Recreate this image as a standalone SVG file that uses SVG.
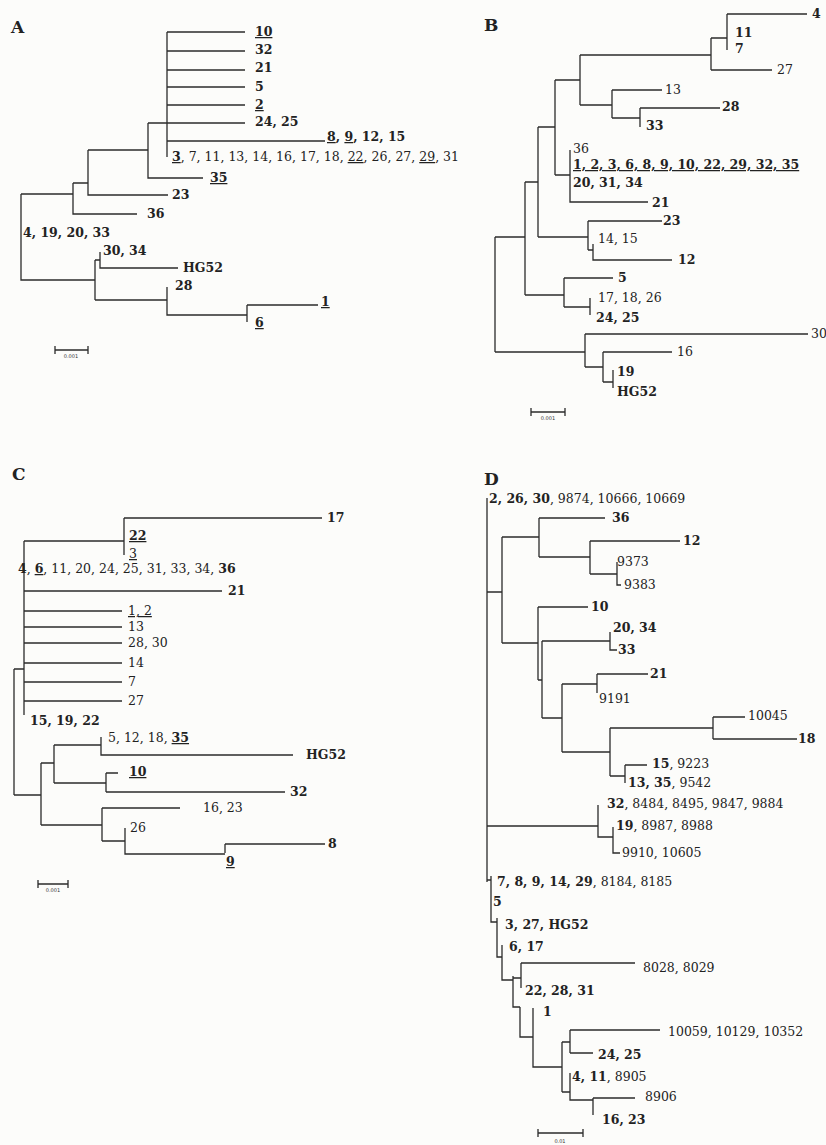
<svg xmlns="http://www.w3.org/2000/svg" width="826" height="1145" viewBox="0 0 826 1145">
<style>
.bg{fill:#fcfcfa}
.ln{fill:none;stroke:#2b2b2b;stroke-width:1.3}
.t{font-family:"DejaVu Serif","Liberation Serif",serif;font-size:12.5px;fill:#222}
.b{font-weight:bold}
.u{text-decoration:underline}
.h{font-family:"DejaVu Serif","Liberation Serif",serif;font-size:17px;font-weight:bold;fill:#222}
.s{font-family:"DejaVu Sans",sans-serif;font-size:5px;fill:#333;text-anchor:middle}
</style>
<rect class="bg" x="0" y="0" width="826" height="1145"/>

<!-- Panel A -->
<g id="panelA">
<text class="h" x="11" y="33">A</text>
<g id="A-connectors">
<path class="ln" d="M167,32 V157 M167,32 H245 M167,51 H245 M167,70 H245 M167,87 H245 M167,105 H245 M167,123 H245 M167,141 H325
M148,123 H167 M148,123 V178 H203
M88,150 H148 M88,150 V195 H168
M73,183 H88 M73,183 V214 H137
M21,194 H73 M21,194 V280 H95
M95,260 V300 M95,260 H100 M100,252 V268 H178
M95,300 H167 M167,287 V315 H247 M247,305 V322 M247,305 H318"/>
<path class="ln" d="M55,350 H88 M55,346 V354 M88,346 V354"/>
</g>
<g id="A-labels">
<text class="t b u" x="255" y="36">10</text>
<text class="t b" x="255" y="54">32</text>
<text class="t b" x="255" y="72">21</text>
<text class="t b" x="255" y="91">5</text>
<text class="t b u" x="255" y="109">2</text>
<text class="t b" x="255" y="126">24, 25</text>
<text class="t b" x="327" y="141"><tspan class="u">8</tspan>, <tspan class="u">9</tspan>, 12, 15</text>
<text class="t" x="172" y="161"><tspan class="u b">3</tspan>, 7, 11, 13, 14, 16, 17, 18, <tspan class="u">22</tspan>, 26, 27, <tspan class="u">29</tspan>, 31</text>
<text class="t b u" x="210" y="182">35</text>
<text class="t b" x="172" y="199">23</text>
<text class="t b" x="147" y="218">36</text>
<text class="t b" x="23" y="237">4, 19, 20, 33</text>
<text class="t b" x="103" y="255">30, 34</text>
<text class="t b" x="183" y="272">HG52</text>
<text class="t b" x="175" y="290">28</text>
<text class="t b u" x="321" y="306">1</text>
<text class="t b u" x="255" y="327">6</text>
<text class="s" x="71" y="358">0.001</text>
</g>
</g>

<!-- Panel B -->
<g id="panelB">
<text class="h" x="484" y="31">B</text>
<g id="B-connectors">
<path class="ln" d="M580,55 V105 M580,55 H711 M711,38 V70 M711,38 H727 M711,70 H772 M727,14 V50 M727,14 H807
M580,105 H612 M612,90 V118 M612,90 H662 M612,118 H640 M640,108 V127 M640,108 H720
M555,80 V175 M555,80 H580 M555,175 H570 M570,150 V202 H648
M538,127 V237 M538,127 H555 M538,237 H588 M588,221 V250 M588,221 H662 M588,250 H593 M593,244 V260 H672
M525,182 V295 M525,182 H538 M525,295 H564 M564,278 V307 M564,278 H613 M564,307 H590 M590,298 V315
M495,237 V352 M495,237 H525 M495,352 H585 M585,334 V367 M585,334 H808 M585,367 H603 M603,352 V382 M603,352 H672 M603,382 H613 M613,370 V388"/>
<path class="ln" d="M531,412 H565 M531,408 V416 M565,408 V416"/>
</g>
<g id="B-labels">
<text class="t b" x="812" y="18">4</text>
<text class="t b" x="735" y="37">11</text>
<text class="t b" x="735" y="53">7</text>
<text class="t" x="777" y="74">27</text>
<text class="t" x="665" y="94">13</text>
<text class="t b" x="722" y="111">28</text>
<text class="t b" x="646" y="130">33</text>
<text class="t" x="573" y="153">36</text>
<text class="t b u" x="573" y="169">1, 2, 3, 6, 8, 9, 10, 22, 29, 32, 35</text>
<text class="t b" x="573" y="187">20, 31, 34</text>
<text class="t b" x="652" y="207">21</text>
<text class="t b" x="663" y="225">23</text>
<text class="t" x="598" y="243">14, 15</text>
<text class="t b" x="678" y="264">12</text>
<text class="t b" x="618" y="282">5</text>
<text class="t" x="598" y="302">17, 18, 26</text>
<text class="t b" x="596" y="322">24, 25</text>
<text class="t" x="811" y="338">30</text>
<text class="t" x="677" y="356">16</text>
<text class="t b" x="617" y="376">19</text>
<text class="t b" x="617" y="396">HG52</text>
<text class="s" x="548" y="420">0.001</text>
</g>
</g>

<!-- Panel C -->
<g id="panelC">
<text class="h" x="12" y="480">C</text>
<g id="C-connectors">
<path class="ln" d="M124,518 V555 M124,518 H322 M24,541 H124
M24,541 V715 M24,591 H222 M24,611 H122 M24,627 H122 M24,643 H122 M24,663 H122 M24,682 H122 M24,701 H122
M14,669 V795 M14,669 H24 M14,795 H41
M41,763 V825 M41,763 H54 M54,745 V783 M54,745 H101 M101,737 V755 H293 M54,783 H106 M106,773 V792 M106,773 H118 M106,792 H285
M41,825 H102 M102,808 V841 M102,808 H180 M102,841 H125 M125,828 V854 H225 M225,844 V853 M225,844 H325"/>
<path class="ln" d="M38,884 H68 M38,880 V888 M68,880 V888"/>
</g>
<g id="C-labels">
<text class="t b" x="327" y="522">17</text>
<text class="t b u" x="129" y="540">22</text>
<text class="t u" x="129" y="558">3</text>
<text class="t" x="18" y="573"><tspan class="b">4</tspan>, <tspan class="b u">6</tspan>, 11, 20, 24, 25, 31, 33, 34, <tspan class="b">36</tspan></text>
<text class="t b" x="228" y="595">21</text>
<text class="t u" x="128" y="615">1, 2</text>
<text class="t" x="128" y="631">13</text>
<text class="t" x="128" y="647">28, 30</text>
<text class="t" x="128" y="667">14</text>
<text class="t" x="128" y="686">7</text>
<text class="t" x="128" y="705">27</text>
<text class="t b" x="30" y="725">15, 19, 22</text>
<text class="t" x="108" y="742">5, 12, 18, <tspan class="b u">35</tspan></text>
<text class="t b" x="306" y="759">HG52</text>
<text class="t b u" x="129" y="776">10</text>
<text class="t b" x="290" y="796">32</text>
<text class="t" x="203" y="812">16, 23</text>
<text class="t" x="130" y="832">26</text>
<text class="t b" x="328" y="848">8</text>
<text class="t b u" x="226" y="866">9</text>
<text class="s" x="53" y="892">0.001</text>
</g>
</g>

<!-- Panel D -->
<g id="panelD">
<text class="h" x="484" y="485">D</text>
<g id="D-connectors">
<path class="ln" d="M487,498 V882
M487,592 H502 M502,537 V643 M502,537 H539 M539,518 V557 M539,518 H605 M539,557 H590 M590,541 V574 M590,541 H680 M590,574 H617 M617,562 V585 H621
M502,643 H538 M538,607 V680 M538,607 H588 M538,680 H542 M542,641 V718 M542,641 H610 M610,632 V650 H617
M542,718 H562 M562,684 V752 M562,684 H597 M597,674 V693 M597,674 H648
M562,752 H610 M610,728 V776 M610,728 H713 M713,717 V739 M713,717 H745 M713,739 H797 M610,776 H625 M625,765 V783 M625,765 H647
M487,826 H598 M598,805 V837 H613 M613,827 V853 H620
M487,880 H491 M491,876 V922 H497 M497,918 V957 H502 M502,945 V980 H513 M513,976 V1007 H520 M520,1007 V1037 H533
M513,978 H521 M521,963 V988 M521,963 H635
M533,1008 V1067 H562 M562,1042 V1092 M562,1042 H570 M570,1030 V1053 M570,1030 H660 M570,1053 H593
M562,1092 H570 M570,1073 V1100 H593 M593,1098 V1115 M593,1098 H635"/>
<path class="ln" d="M538,1133 H583 M538,1129 V1137 M583,1129 V1137"/>
</g>
<g id="D-labels">
<text class="t" x="489" y="503"><tspan class="b">2, 26, 30</tspan>, 9874, 10666, 10669</text>
<text class="t b" x="612" y="522">36</text>
<text class="t b" x="683" y="545">12</text>
<text class="t" x="617" y="566">9373</text>
<text class="t" x="624" y="589">9383</text>
<text class="t b" x="591" y="611">10</text>
<text class="t b" x="613" y="632">20, 34</text>
<text class="t b" x="618" y="654">33</text>
<text class="t b" x="650" y="678">21</text>
<text class="t" x="599" y="703">9191</text>
<text class="t" x="748" y="720">10045</text>
<text class="t b" x="798" y="743">18</text>
<text class="t" x="652" y="768"><tspan class="b">15</tspan>, 9223</text>
<text class="t" x="628" y="787"><tspan class="b">13, 35</tspan>, 9542</text>
<text class="t" x="607" y="808"><tspan class="b">32</tspan>, 8484, 8495, 9847, 9884</text>
<text class="t" x="616" y="830"><tspan class="b">19</tspan>, 8987, 8988</text>
<text class="t" x="622" y="857">9910, 10605</text>
<text class="t" x="497" y="886"><tspan class="b">7, 8, 9, 14, 29</tspan>, 8184, 8185</text>
<text class="t b" x="493" y="906">5</text>
<text class="t b" x="505" y="929">3, 27, HG52</text>
<text class="t b" x="509" y="951">6, 17</text>
<text class="t" x="643" y="972">8028, 8029</text>
<text class="t b" x="525" y="995">22, 28, 31</text>
<text class="t b" x="543" y="1016">1</text>
<text class="t" x="668" y="1036">10059, 10129, 10352</text>
<text class="t b" x="598" y="1059">24, 25</text>
<text class="t" x="572" y="1081"><tspan class="b">4, 11</tspan>, 8905</text>
<text class="t" x="645" y="1101">8906</text>
<text class="t b" x="602" y="1124">16, 23</text>
<text class="s" x="560" y="1143">0.01</text>
</g>
</g>
</svg>
